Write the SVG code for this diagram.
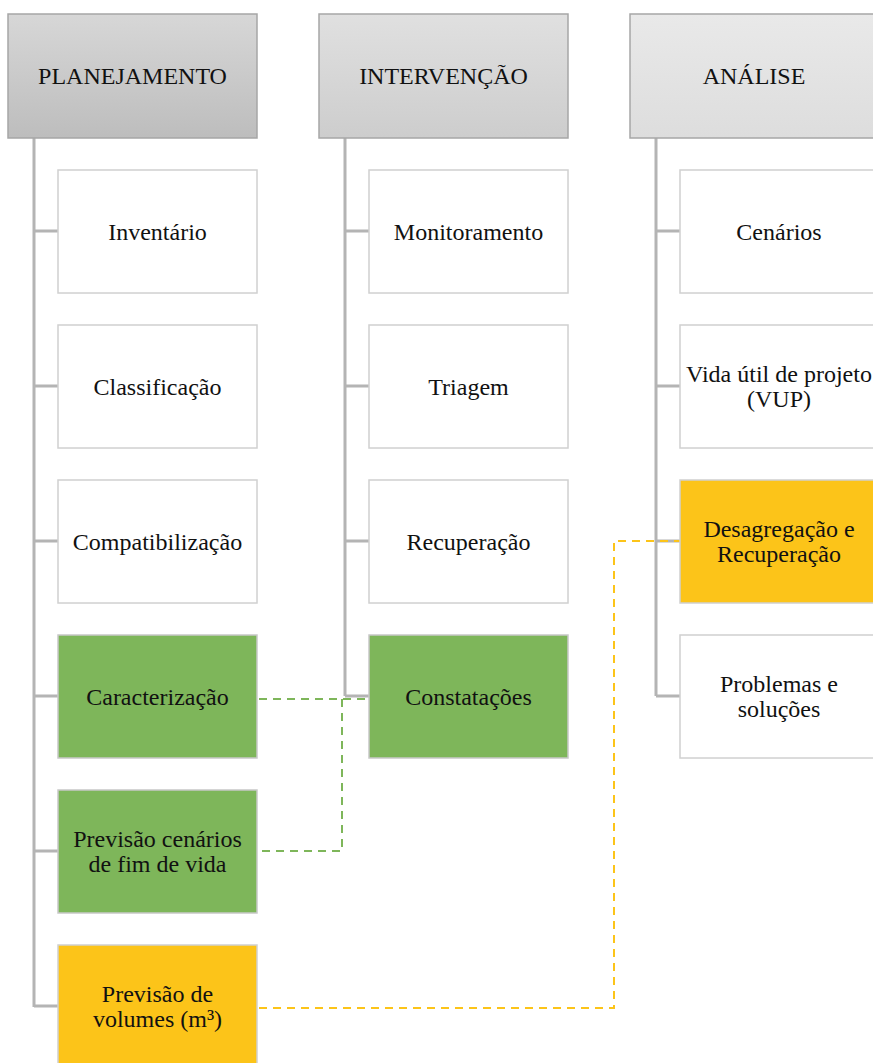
<svg xmlns="http://www.w3.org/2000/svg" width="873" height="1063" viewBox="0 0 873 1063">
  <style>
    .lbl { font-family: "Liberation Serif", "Times New Roman", serif; font-size: 24px; fill: #111; text-anchor: middle; }
    .hdr { stroke: #a6a6a6; stroke-width: 1.5; }
    .box { stroke: #d0d0d0; stroke-width: 1.5; }
    .white { fill: #ffffff; }
    .green { fill: #7eb65a; stroke: #c8c8c8; }
    .yellow { fill: #fcc419; stroke: #d0d0d0; }
    .tree { fill: none; stroke: #b4b4b4; stroke-width: 3; }
    .dash-g { fill: none; stroke: #7eb65a; stroke-width: 2; stroke-dasharray: 8 6; }
    .dash-y { fill: none; stroke: #fcc419; stroke-width: 2; stroke-dasharray: 8 6; }
  </style>
  <defs>
    <linearGradient id="gPlan" x1="0" y1="0" x2="0" y2="1">
      <stop offset="0" stop-color="#d7d7d7"/>
      <stop offset="1" stop-color="#bdbdbd"/>
    </linearGradient>
    <linearGradient id="gInt" x1="0" y1="0" x2="0" y2="1">
      <stop offset="0" stop-color="#e0e0e0"/>
      <stop offset="1" stop-color="#cdcdcd"/>
    </linearGradient>
    <linearGradient id="gAna" x1="0" y1="0" x2="0" y2="1">
      <stop offset="0" stop-color="#e9e9e9"/>
      <stop offset="1" stop-color="#dddddd"/>
    </linearGradient>
  </defs>

  <rect width="873" height="1063" fill="#ffffff"/>

  <!-- tree lines and cross links -->
  <g id="connectors">
    <path class="tree" d="M34 138 V1007 M34 231 H58 M34 386 H58 M34 541 H58 M34 696 H58 M34 851 H58 M34 1006 H58"/>
    <path class="tree" d="M345 138 V696 M345 231 H369 M345 386 H369 M345 541 H369 M345 696 H369"/>
    <path class="tree" d="M656 138 V696 M656 231 H680 M656 386 H680 M656 541 H680 M656 696 H680"/>
    <path class="dash-g" d="M259 699 H371 V722"/>
    <path class="dash-g" d="M342 699 V851 H259"/>
    <path class="dash-y" d="M259 1008 H614 V541 H680"/>
  </g>

  <!-- PLANEJAMENTO column -->
  <g id="planejamento">
    <rect class="hdr" x="8" y="14" width="249" height="124" fill="url(#gPlan)"/>
    <text class="lbl" x="132.5" y="84">PLANEJAMENTO</text>
  </g>
  <g id="inventario">
    <rect class="box white" x="58" y="170" width="199" height="123"/>
    <text class="lbl" x="157.5" y="240">Inventário</text>
  </g>
  <g id="classificacao">
    <rect class="box white" x="58" y="325" width="199" height="123"/>
    <text class="lbl" x="157.5" y="395">Classificação</text>
  </g>
  <g id="compatibilizacao">
    <rect class="box white" x="58" y="480" width="199" height="123"/>
    <text class="lbl" x="157.5" y="550">Compatibilização</text>
  </g>
  <g id="caracterizacao">
    <rect class="box green" x="58" y="635" width="199" height="123"/>
    <text class="lbl" x="157.5" y="705">Caracterização</text>
  </g>
  <g id="previsao-cenarios">
    <rect class="box green" x="58" y="790" width="199" height="123"/>
    <text class="lbl" x="157.5" y="847">Previsão cenários</text>
    <text class="lbl" x="157.5" y="872">de fim de vida</text>
  </g>
  <g id="previsao-volumes">
    <rect class="box yellow" x="58" y="945" width="199" height="123"/>
    <text class="lbl" x="157.5" y="1002">Previsão de</text>
    <text class="lbl" x="157.5" y="1027">volumes (m³)</text>
  </g>

  <!-- INTERVENÇÃO column -->
  <g id="intervencao">
    <rect class="hdr" x="319" y="14" width="249" height="124" fill="url(#gInt)"/>
    <text class="lbl" x="443.5" y="84">INTERVENÇÃO</text>
  </g>
  <g id="monitoramento">
    <rect class="box white" x="369" y="170" width="199" height="123"/>
    <text class="lbl" x="468.5" y="240">Monitoramento</text>
  </g>
  <g id="triagem">
    <rect class="box white" x="369" y="325" width="199" height="123"/>
    <text class="lbl" x="468.5" y="395">Triagem</text>
  </g>
  <g id="recuperacao">
    <rect class="box white" x="369" y="480" width="199" height="123"/>
    <text class="lbl" x="468.5" y="550">Recuperação</text>
  </g>
  <g id="constatacoes">
    <rect class="box green" x="369" y="635" width="199" height="123"/>
    <text class="lbl" x="468.5" y="705">Constatações</text>
  </g>

  <!-- ANÁLISE column -->
  <g id="analise">
    <rect class="hdr" x="630" y="14" width="250" height="124" fill="url(#gAna)"/>
    <text class="lbl" x="754" y="84">ANÁLISE</text>
  </g>
  <g id="cenarios">
    <rect class="box white" x="680" y="170" width="200" height="123"/>
    <text class="lbl" x="779" y="240">Cenários</text>
  </g>
  <g id="vida-util">
    <rect class="box white" x="680" y="325" width="200" height="123"/>
    <text class="lbl" x="779" y="382">Vida útil de projeto</text>
    <text class="lbl" x="779" y="407">(VUP)</text>
  </g>
  <g id="desagregacao">
    <rect class="box yellow" x="680" y="480" width="200" height="123"/>
    <text class="lbl" x="779" y="537">Desagregação e</text>
    <text class="lbl" x="779" y="562">Recuperação</text>
  </g>
  <g id="problemas">
    <rect class="box white" x="680" y="635" width="200" height="123"/>
    <text class="lbl" x="779" y="692">Problemas e</text>
    <text class="lbl" x="779" y="717">soluções</text>
  </g>
</svg>
